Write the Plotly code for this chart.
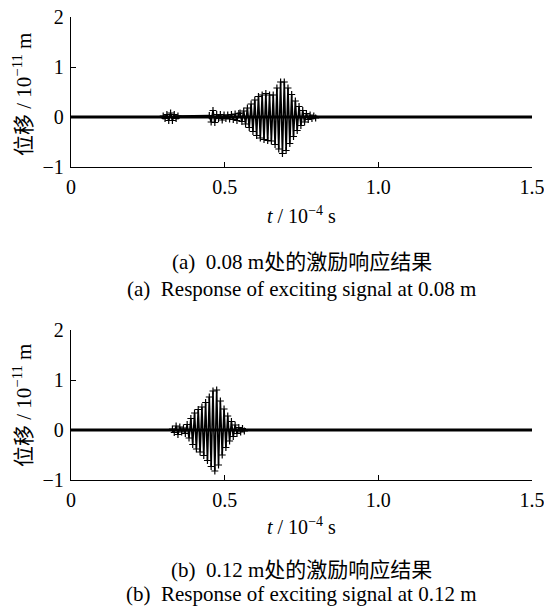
import plotly.graph_objects as go

W, H = 544, 608

# ---------------- data (time in 1e-4 s, displacement in 1e-11 m) ----------------
t_a = [0.300, 0.306, 0.312, 0.318, 0.324, 0.330, 0.336, 0.342, 0.348,
       0.450, 0.456, 0.462, 0.468, 0.474, 0.480, 0.486, 0.492, 0.498, 0.504,
       0.510, 0.516, 0.522, 0.528, 0.534, 0.540, 0.546,
       0.550, 0.556, 0.562, 0.568, 0.574, 0.580, 0.586, 0.592, 0.598, 0.604,
       0.610, 0.616, 0.622, 0.628, 0.634, 0.640, 0.646, 0.652, 0.658, 0.664,
       0.670, 0.676, 0.682, 0.688, 0.694, 0.700, 0.706, 0.712, 0.718, 0.724,
       0.730, 0.736, 0.742, 0.748, 0.754, 0.760, 0.766, 0.772, 0.778, 0.784,
       0.790, 0.796]
u_a = [0.02, -0.03, 0.05, -0.07, 0.08, -0.07, 0.05, -0.03, 0.02,
       0.03, -0.10, 0.13, -0.11, 0.05, -0.03, 0.05, -0.06, 0.04, -0.03,
       0.04, -0.04, 0.05, -0.05, 0.06, -0.07, 0.07,
       0.08, -0.09, 0.12, -0.14, 0.18, -0.21, 0.26, -0.29, 0.34, -0.37,
       0.41, -0.42, 0.44, -0.45, 0.47, -0.47, 0.44, -0.48, 0.44, -0.55,
       0.58, -0.64, 0.70, -0.73, 0.70, -0.67, 0.58, -0.53, 0.45, -0.39,
       0.32, -0.27, 0.21, -0.17, 0.13, -0.10, 0.07, -0.05, 0.04, -0.03,
       0.02, -0.02]

t_b = [0.330, 0.336, 0.342, 0.348, 0.354, 0.360, 0.366,
       0.372, 0.378, 0.384, 0.390, 0.396, 0.402, 0.408, 0.414, 0.420, 0.426,
       0.432, 0.438, 0.444, 0.450, 0.456, 0.462, 0.468, 0.474, 0.480, 0.486,
       0.492, 0.498, 0.504, 0.510, 0.516, 0.522, 0.528, 0.534, 0.540, 0.546,
       0.552, 0.558, 0.564]
u_b = [0.02, -0.05, 0.08, -0.09, 0.06, -0.04, 0.04,
       -0.07, 0.11, -0.16, 0.23, -0.29, 0.34, -0.38, 0.41, -0.44, 0.46,
       -0.51, 0.55, -0.61, 0.66, -0.73, 0.78, -0.82, 0.80, -0.70, 0.58,
       -0.50, 0.42, -0.35, 0.28, -0.22, 0.17, -0.13, 0.10, -0.07, 0.05,
       -0.04, 0.03, -0.02]

baseline_t = [0.0, 1.5]
baseline_u = [0.0, 0.0]

x_ticks = [0, 0.5, 1.0, 1.5]
x_labels = ["0", "0.5", "1.0", "1.5"]
y_ticks = [-1, 0, 1, 2]
y_labels = ["\u22121", "0", "1", "2"]

captions_cn = ["(a)  0.08 m处的激励响应结果", "(b)  0.12 m处的激励响应结果"]
captions_en = ["(a)  Response of exciting signal at 0.08 m",
               "(b)  Response of exciting signal at 0.12 m"]

# ---------------- layout helpers ----------------
def px(x):
    return x / W

def py(y):
    return 1 - y / H

SERIF = "Liberation Serif, Times New Roman, Noto Sans CJK SC, serif"

x_left, x_right = 71, 532
panels = [(17, 167), (330, 480)]  # (top, bottom) in pixels

fig = go.Figure()

series = [(t_a, u_a), (t_b, u_b)]
for i, (tt, uu) in enumerate(series):
    xa = "x" if i == 0 else "x2"
    ya = "y" if i == 0 else "y2"
    fig.add_trace(go.Scatter(x=baseline_t, y=baseline_u, mode="lines",
                             line=dict(color="black", width=3),
                             xaxis=xa, yaxis=ya, showlegend=False,
                             hoverinfo="skip"))
    fig.add_trace(go.Scatter(x=tt, y=uu, mode="lines+markers",
                             line=dict(color="black", width=1.6),
                             marker=dict(symbol="cross-thin", size=5,
                                         color="black",
                                         line=dict(color="black", width=1.2)),
                             xaxis=xa, yaxis=ya, showlegend=False))

axis_common = dict(showgrid=False, zeroline=False, showline=True,
                   linecolor="black", linewidth=1.3, ticks="inside",
                   ticklen=5, tickwidth=1.3, tickcolor="black",
                   automargin=False, ticklabeloverflow="allow",
                   tickfont=dict(family=SERIF, size=20, color="black"))

layout = dict(width=W, height=H, autosize=False,
              margin=dict(l=0, r=0, t=0, b=0, autoexpand=False),
              paper_bgcolor="white", plot_bgcolor="white",
              showlegend=False)

for i, (top, bot) in enumerate(panels):
    sx = "" if i == 0 else "2"
    layout["xaxis" + sx] = dict(axis_common, domain=[px(x_left), px(x_right)],
                                range=[0, 1.5], tickvals=x_ticks,
                                ticktext=x_labels, anchor="y" + sx,
                                ticklabelstandoff=2)
    layout["yaxis" + sx] = dict(axis_common, domain=[py(bot), py(top)],
                                range=[-1, 2], tickvals=y_ticks,
                                ticktext=y_labels, anchor="x" + sx,
                                ticklabelstandoff=2)

fig.update_layout(**layout)

xc = (x_left + x_right) / 2
title_y = [215, 526]
y_title_y = [95, 406]
cn_y = [262, 570]
en_y = [289, 594]
for i in range(2):
    fig.add_annotation(x=px(xc), y=py(title_y[i]), xref="paper", yref="paper",
                       text="<i>t</i> / 10<sup>\u22124</sup> s", showarrow=False,
                       font=dict(family=SERIF, size=20, color="black"),
                       xanchor="center", yanchor="middle")
    fig.add_annotation(x=px(22), y=py(y_title_y[i]), xref="paper", yref="paper",
                       text="位移 / 10<sup>\u221211</sup> m", showarrow=False,
                       textangle=-90,
                       font=dict(family=SERIF, size=21, color="black"),
                       xanchor="center", yanchor="middle")
    fig.add_annotation(x=px(xc), y=py(cn_y[i]), xref="paper", yref="paper",
                       text=captions_cn[i], showarrow=False,
                       font=dict(family=SERIF, size=21, color="black"),
                       xanchor="center", yanchor="middle")
    fig.add_annotation(x=px(xc), y=py(en_y[i]), xref="paper", yref="paper",
                       text=captions_en[i], showarrow=False,
                       font=dict(family=SERIF, size=21, color="black"),
                       xanchor="center", yanchor="middle")

fig.write_html("out.html",
               config={"displayModeBar": False},
               post_script="document.body.style.margin='0';"
                           "document.body.style.padding='0';")
